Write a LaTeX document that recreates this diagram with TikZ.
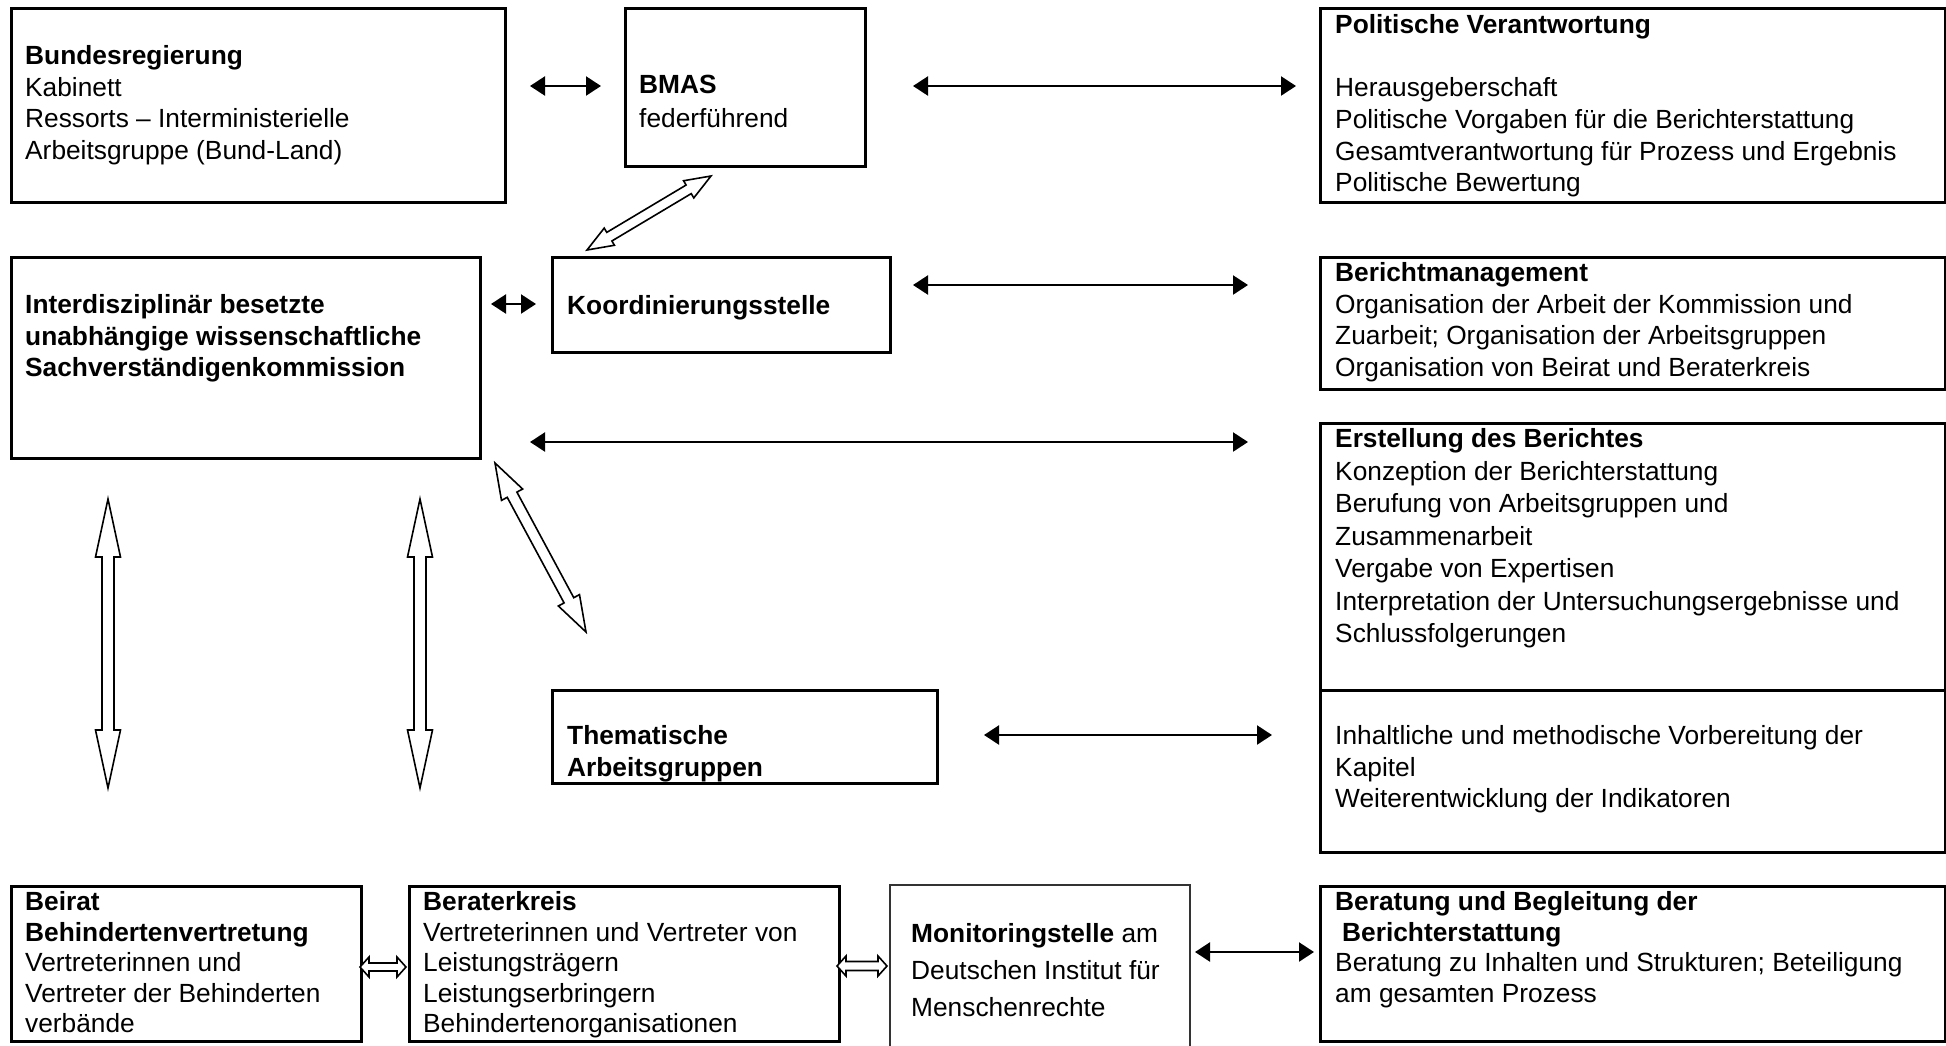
\documentclass[tikz,border=0pt]{standalone}
\usepackage{fontspec}
\setmainfont{Liberation Sans}
\usetikzlibrary{arrows.meta,calc}

% hohler Doppelpfeil: von, nach, Spitzenlaenge, halbe Spitzenbreite, halbe Schaftbreite
\newcommand{\hohlpfeil}[5]{%
  \draw[hohl] let \p1=($(#2)-(#1)$), \n1={atan2(\y1,\x1)}, \n2={veclen(\x1,\y1)} in
    [shift={(#1)}, rotate=\n1]
    (0,0) -- (#3,#4) -- (#3,#5) -- (\n2-#3,#5) -- (\n2-#3,#4) -- (\n2,0)
    -- (\n2-#3,-#4) -- (\n2-#3,-#5) -- (#3,-#5) -- (#3,-#4) -- cycle;}

\begin{document}
\begin{tikzpicture}[x=1pt,y=-1pt]
\tikzset{
	kasten/.style={draw=black, line width=2.5pt, anchor=north west, inner sep=0pt},
	txt/.style={anchor=north west, inner sep=0pt, align=left, font=\fontsize{26.3}{31.7}\selectfont},
	pfeil/.style={line width=2.3pt, {Triangle[length=15pt,width=19pt]}-{Triangle[length=15pt,width=19pt]}},
	hohl/.style={draw=black, line width=1.6pt, fill=white, line join=miter}
}
\useasboundingbox (0,0) rectangle (1946,1045);

% obere Reihe
\node[kasten, minimum width=494pt, minimum height=194pt] (bund) at (10,7) {};
\node[txt] (bund_t) at (25,42) {\strut\textbf{Bundesregierung}\\ Kabinett\\ Ressorts – Interministerielle\\ Arbeitsgruppe (Bund-Land)};

\node[kasten, minimum width=240pt, minimum height=158pt] (bmas) at (624,7) {};
\node[txt, font=\fontsize{26.3}{34.5}\selectfont] (bmas_t) at (639,69) {\strut\textbf{BMAS}\\ federführend};

\node[kasten, minimum width=625pt, minimum height=194pt] (polit) at (1319,7) {};
\node[txt] (polit_t) at (1335,11) {\strut\textbf{Politische Verantwortung}\\ \mbox{}\\ Herausgeberschaft\\ Politische Vorgaben für die Berichterstattung\\ Gesamtverantwortung für Prozess und Ergebnis\\ Politische Bewertung};

% Kommission und Koordinierung
\node[kasten, minimum width=469pt, minimum height=201pt] (komm) at (10,256) {};
\node[txt] (komm_t) at (25,291) {\strut\textbf{Interdisziplinär besetzte}\\ \textbf{unabhängige wissenschaftliche}\\ \textbf{Sachverständigenkommission}};

\node[kasten, minimum width=338pt, minimum height=95pt] (koord) at (551,256) {};
\node[txt] (koord_t) at (567,292) {\strut\textbf{Koordinierungsstelle}};

\node[kasten, minimum width=625pt, minimum height=132pt] (berichtm) at (1319,256) {};
\node[txt] (berichtm_t) at (1335,259) {\strut\textbf{Berichtmanagement}\\ Organisation der Arbeit der Kommission und\\ Zuarbeit; Organisation der Arbeitsgruppen\\ Organisation von Beirat und Beraterkreis};

\node[kasten, minimum width=625pt, minimum height=267pt] (erst) at (1319,422) {};
\node[txt, font=\fontsize{26.3}{32.5}\selectfont] (erst_t) at (1335,425) {\strut\textbf{Erstellung des Berichtes}\\ Konzeption der Berichterstattung\\ Berufung von Arbeitsgruppen und\\ Zusammenarbeit\\ Vergabe von Expertisen\\ Interpretation der Untersuchungsergebnisse und\\ Schlussfolgerungen};

% Arbeitsgruppen
\node[kasten, minimum width=385pt, minimum height=93pt] (thema) at (551,689) {};
\node[txt] (thema_t) at (567,722) {\strut\textbf{Thematische}\\ \textbf{Arbeitsgruppen}};

\node[kasten, minimum width=625pt, minimum height=162pt] (inhalt) at (1319,689) {};
\node[txt] (inhalt_t) at (1335,722) {\strut Inhaltliche und methodische Vorbereitung der\\ Kapitel\\ Weiterentwicklung der Indikatoren};

% untere Reihe
\node[kasten, minimum width=350pt, minimum height=155pt] (beirat) at (10,885) {};
\node[txt, font=\fontsize{26.3}{30.5}\selectfont] (beirat_t) at (25,889) {\strut\textbf{Beirat}\\ \textbf{Behindertenvertretung}\\ Vertreterinnen und\\ Vertreter der Behinderten\\ verbände};

\node[kasten, minimum width=430pt, minimum height=155pt] (berater) at (408,885) {};
\node[txt, font=\fontsize{26.3}{30.5}\selectfont] (berater_t) at (423,889) {\strut\textbf{Beraterkreis}\\ Vertreterinnen und Vertreter von\\ Leistungsträgern\\ Leistungserbringern\\ Behindertenorganisationen};

\node[kasten, line width=1.5pt, draw=black!80, minimum width=300pt, minimum height=170pt] (mon) at (889,884) {};
\node[txt, font=\fontsize{26.3}{37}\selectfont] (mon_t) at (911,916) {\strut\textbf{Monitoringstelle} am\\ Deutschen Institut für\\ Menschenrechte};

\node[kasten, minimum width=625pt, minimum height=155pt] (beratung) at (1319,885) {};
\node[txt, font=\fontsize{26.3}{30.5}\selectfont] (beratung_t) at (1335,889) {\strut\textbf{Beratung und Begleitung der}\\ \hspace*{7pt}\textbf{Berichterstattung}\\ Beratung zu Inhalten und Strukturen; Beteiligung\\ am gesamten Prozess};

% Endpunkte der Pfeile
\coordinate (bund_o) at (530,86);   \coordinate (bmas_w) at (601,86);
\coordinate (bmas_o) at (913,86);   \coordinate (polit_w) at (1296,86);
\coordinate (komm_o) at (491,304);  \coordinate (koord_w) at (536,304);
\coordinate (koord_o) at (913,285); \coordinate (berichtm_w) at (1248,285);
\coordinate (komm_o2) at (530,442); \coordinate (erst_w) at (1248,442);
\coordinate (thema_o) at (984,735); \coordinate (inhalt_w) at (1272,735);
\coordinate (mon_o) at (1195,952);  \coordinate (beratung_w) at (1314,952);

% einfache Doppelpfeile
\draw[pfeil] (bund_o) -- (bmas_w);
\draw[pfeil] (bmas_o) -- (polit_w);
\draw[pfeil] (komm_o) -- (koord_w);
\draw[pfeil] (koord_o) -- (berichtm_w);
\draw[pfeil] (komm_o2) -- (erst_w);
\draw[pfeil] (thema_o) -- (inhalt_w);
\draw[pfeil] (mon_o) -- (beratung_w);

% hohle Doppelpfeile
\coordinate (koord_n) at (587,250);  \coordinate (bmas_s) at (711,176);
\coordinate (komm_s) at (495,463);   \coordinate (thema_n) at (586,632);
\coordinate (komm_s1) at (108,499);  \coordinate (beirat_n) at (108,788);
\coordinate (komm_s2) at (420,499);  \coordinate (berater_n) at (420,788);
\coordinate (beirat_o) at (360,967); \coordinate (berater_w) at (406,967);
\coordinate (berater_o) at (837,966);\coordinate (mon_w) at (887,966);

\hohlpfeil{koord_n}{bmas_s}{26}{10}{5}
\hohlpfeil{komm_s}{thema_n}{36}{12}{5.5}
\hohlpfeil{komm_s1}{beirat_n}{58}{12.5}{6}
\hohlpfeil{komm_s2}{berater_n}{58}{12.5}{6}
\hohlpfeil{beirat_o}{berater_w}{9}{10}{4}
\hohlpfeil{berater_o}{mon_w}{9}{10}{4.5}

\end{tikzpicture}
\end{document}
